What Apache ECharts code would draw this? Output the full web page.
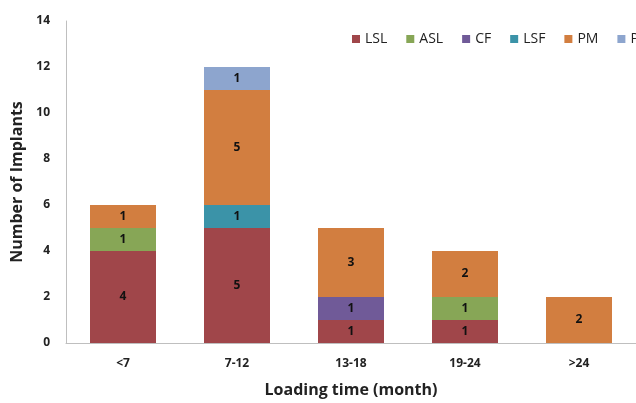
<!DOCTYPE html>
<html>
<head>
<meta charset="utf-8">
<script src="https://cdn.jsdelivr.net/npm/echarts@6/dist/echarts.min.js"></script>
<style>html,body{margin:0;padding:0;background:#fff;overflow:hidden}#c{width:636px;height:403px}</style>
</head>
<body>
<div id="c"></div>
<script>
const categories = ['<7', '7-12', '13-18', '19-24', '>24'];
const seriesNames = ['LSL', 'ASL', 'CF', 'LSF', 'PM', 'PF'];
const LSL = [4, 5, 1, 1, null];
const ASL = [1, null, null, 1, null];
const CF = [null, null, 1, null, null];
const LSF = [null, 1, null, null, null];
const PM = [1, 5, 3, 2, 2];
const PF = [null, 1, null, null, null];
const yTicks = { min: 0, max: 14, interval: 2 };
const colors = ['#A0464A', '#87A656', '#705A98', '#3B93A8', '#D27E40', '#8DA5CE'];

const values = [LSL, ASL, CF, LSF, PM, PF];
const font = '"Open Sans", "Noto Sans", sans-serif';
const chart = echarts.init(document.getElementById('c'));
chart.setOption({
  animation: false,
  color: colors,
  textStyle: { fontFamily: font },
  legend: {
    left: 347, top: 27, width: 500,
    itemWidth: 8, itemHeight: 8, itemGap: 19, icon: 'rect',
    textStyle: { fontSize: 14, color: '#222', fontFamily: font },
    data: seriesNames
  },
  grid: { left: 66, top: 21, width: 578, height: 326 },
  xAxis: {
    type: 'category', data: categories,
    axisLine: { lineStyle: { color: '#BFBFBF', width: 1 } },
    axisTick: { show: false },
    axisLabel: { margin: 15, fontSize: 12, fontWeight: 'bold', color: '#222' },
    name: 'Loading time (month)', nameLocation: 'middle', nameGap: 39,
    nameTextStyle: { fontSize: 16, fontWeight: 'bold', color: '#222' }
  },
  yAxis: {
    type: 'value', min: yTicks.min, max: yTicks.max, interval: yTicks.interval,
    axisLine: { show: true, lineStyle: { color: '#BFBFBF', width: 1 } },
    axisTick: { show: false },
    splitLine: { show: false },
    axisLabel: { margin: 16, fontSize: 12, fontWeight: 'bold', color: '#222' },
    name: 'Number of Implants', nameLocation: 'middle', nameGap: 40,
    nameTextStyle: { fontSize: 16, fontWeight: 'bold', color: '#222' }
  },
  series: seriesNames.map((n, i) => ({
    name: n, type: 'bar', stack: 'total', barWidth: 66,
    data: values[i],
    label: { show: true, position: 'inside', fontSize: 12, fontWeight: 'bold', color: '#111',
      formatter: p => (p.value == null ? '' : p.value) }
  }))
});
</script>
</body>
</html>
